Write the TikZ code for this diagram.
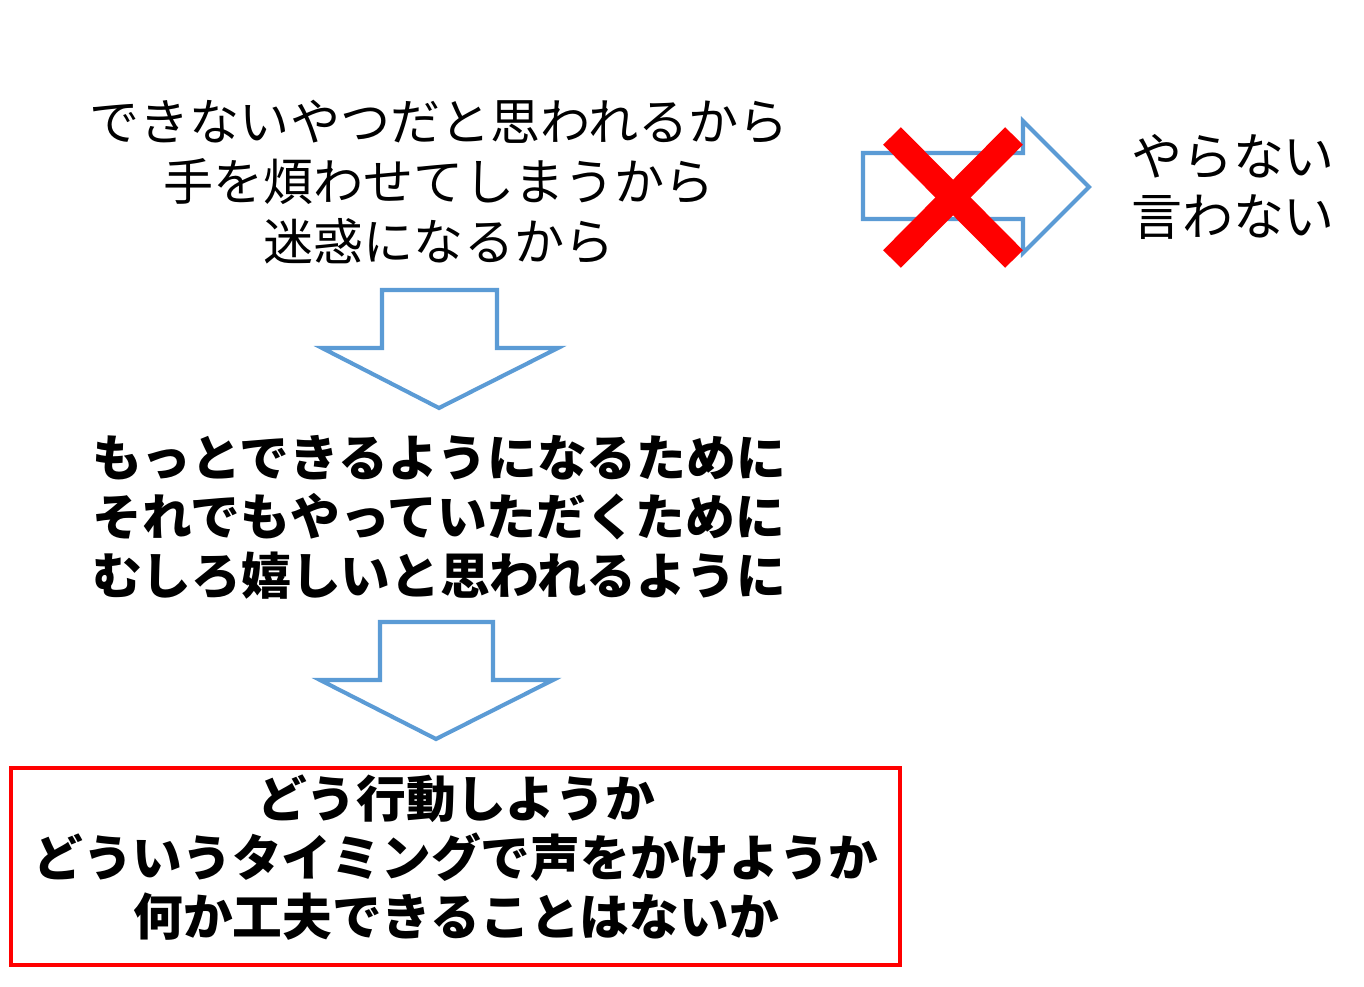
\documentclass[tikz,border=0pt]{standalone}
\usepackage{fontspec}
\newfontfamily\jpfont{Noto Sans CJK JP}
\definecolor{arrowblue}{RGB}{91,155,213}
\tikzset{
  reason/.style={font=\jpfont\fontsize{28.5pt}{34pt}\selectfont, align=center, inner sep=0pt},
  goal/.style={font=\jpfont\bfseries\fontsize{28.3pt}{33.6pt}\selectfont, align=center, inner sep=0pt},
  blockarrow/.style={draw=arrowblue, line width=2.3pt, fill=white, line join=miter},
  cross/.style={draw=red, line width=0.5cm}
}

\begin{document}
\begin{tikzpicture}[x=0.02cm, y=-0.02cm]
                            \useasboundingbox (0,0) rectangle (1364,986);

                            \node[reason] (why) at (439,182) {できないやつだと思われるから\\手を煩わせてしまうから\\迷惑になるから};
                            \node[reason, font=\jpfont\fontsize{29pt}{34pt}\selectfont] (dont) at (1233,187) {やらない\\言わない};
                            \node[goal] (forwhat) at (439,517) {もっとできるようになるために\\それでもやっていただくために\\むしろ嬉しいと思われるように};
                            \node[goal, draw=red, line width=2.2pt, minimum width=889*0.02cm, minimum height=197*0.02cm] (how) at (455.5,866.5) {};
                            \node[goal] (howtext) at (456,858) {どう行動しようか\\どういうタイミングで声をかけようか\\何か工夫できることはないか};

                            \draw[blockarrow] (863,153) -- (1023,153) -- (1023,121) -- (1089,187) -- (1023,253) -- (1023,219) -- (863,219) -- cycle;
                            \draw[cross] (892,136) -- (1014,259);
                            \draw[cross] (1014,136) -- (892,259);

                            \draw[blockarrow] (382,290) -- (497,290) -- (497,348) -- (558,348) -- (439,408) -- (322,348) -- (382,348) -- cycle;
                            \draw[blockarrow] (380,622) -- (493,622) -- (493,680) -- (553,680) -- (436,739) -- (320,680) -- (380,680) -- cycle;
                        \end{tikzpicture}
\end{document}
